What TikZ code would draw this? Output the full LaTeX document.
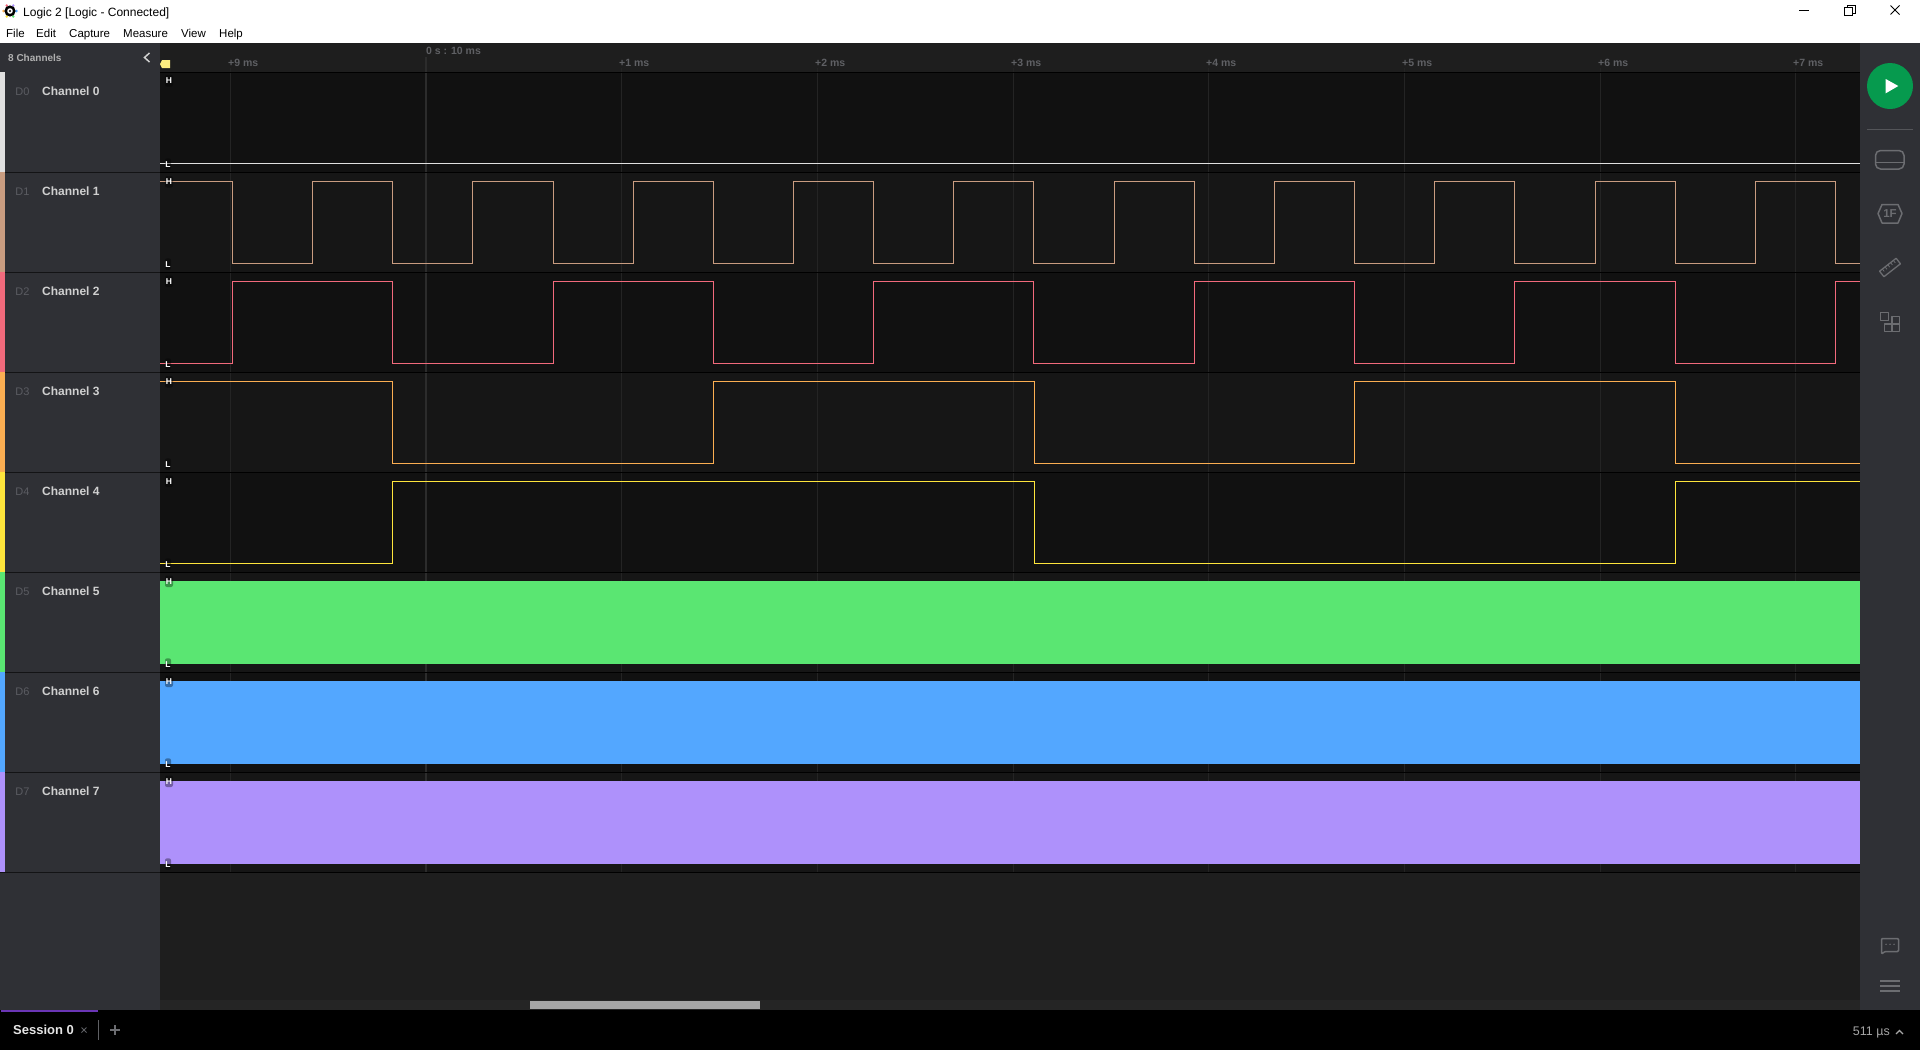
\documentclass[tikz,border=0pt]{standalone}
\usepackage{fontspec}
\setmainfont{Liberation Sans}
\definecolor{panelgray}{HTML}{2F3035}
\definecolor{plotgray}{HTML}{1E1E1E}
\definecolor{trackgray}{HTML}{252525}
\definecolor{rowdark}{HTML}{111111}
\definecolor{rowlight}{HTML}{161616}
\definecolor{gridgray}{HTML}{242424}
\definecolor{originline}{HTML}{2C2C2C}
\definecolor{icongray}{HTML}{6C6D71}
\definecolor{rulertext}{HTML}{5F6064}
\definecolor{chid}{HTML}{5B5C62}
\definecolor{chname}{HTML}{D0D0D0}
\definecolor{rungreen}{HTML}{069A4E}
\definecolor{sessionpurple}{HTML}{6A35B5}
\definecolor{chzero}{HTML}{E0E0E0}
\definecolor{chone}{HTML}{C99C80}
\definecolor{chtwo}{HTML}{F26A7C}
\definecolor{chthree}{HTML}{FBAE52}
\definecolor{chfour}{HTML}{FEE53C}
\definecolor{chfive}{HTML}{5AE672}
\definecolor{chsix}{HTML}{53A7FF}
\definecolor{chseven}{HTML}{AE91FB}
\tikzset{
  sigline/.style={line width=1.2pt, line join=miter, line cap=square},
  gridline/.style={gridgray, line width=1pt},
  rowline/.style={black, line width=1pt},
  icon/.style={icongray, line width=1.5pt, line join=round},
  label/.style={anchor=base west, inner sep=0pt},
  menulabel/.style={label, black, font=\fontsize{11.5}{14}\selectfont},
  rulerlabel/.style={label, rulertext, font=\bfseries\fontsize{10.5}{12}\selectfont},
  chanid/.style={label, color=chid, font=\fontsize{11}{14}\selectfont},
  channame/.style={label, color=chname, font=\bfseries\fontsize{12}{14}\selectfont},
  levelbg/.style={fill=black, fill opacity=.35, rounded corners=2pt},
  levellabel/.style={text=white, inner sep=0pt, font=\bfseries\fontsize{8.5}{9}\selectfont}
}
\begin{document}
\begin{tikzpicture}[x=1pt,y=-1pt]
    \useasboundingbox (0,0) rectangle (1920,1050);
% window background
    \fill[white] (0,0) rectangle (1920,43);
    \fill[plotgray] (160,43) rectangle (1860,1000);
    \fill[panelgray] (0,43) rectangle (160,1010);
    \fill[panelgray] (1860,43) rectangle (1920,1010);
    \fill[black] (0,1010) rectangle (1920,1050);
% title bar
    \foreach \a/\c in {0/chsix,60/chseven,120/chtwo,180/chthree,240/chfour,300/chfive}
      \fill[\c] (10,11)++(\a:6.4pt) circle (1.4pt);
    \fill[black] (10,11) circle (5.6pt);
    \fill[white] (10,11) circle (2.8pt);
    \fill[black] (10,11) circle (1.2pt);
    \node[label, black, font=\fontsize{12}{14}\selectfont] (title) at (23,16) {Logic 2 [Logic - Connected]};
    \draw[black, line width=.9pt] (1799,10.5) -- (1809,10.5);
    \draw[black, line width=.9pt] (1844.5,7.5) rectangle (1852.5,15.5);
    \draw[black, line width=.9pt] (1847,7.5) -- (1847,5.5) -- (1855,5.5) -- (1855,13) -- (1852.5,13);
    \draw[black, line width=.9pt] (1890.5,5.5) -- (1899.5,14.5) (1899.5,5.5) -- (1890.5,14.5);
% menu
    \foreach \x/\t in {6/File,36/Edit,69/Capture,123/Measure,181/View,219/Help}
      \node[menulabel] (menu\t) at (\x,37) {\t};
% channel rows
    \foreach \y/\c in {72/rowdark,172/rowlight,272/rowdark,372/rowlight,472/rowdark,572/rowlight,672/rowdark,772/rowlight}
      \fill[\c] (160,\y) rectangle (1860,\y+100);
% grid
    \foreach \x in {230.5,621.5,817.5,1013.5,1208.5,1404.5,1600.5,1795.5}
      \draw[gridline] (\x,68) -- (\x,872);
    \draw[originline, line width=1.5pt] (426,57) -- (426,872);
% ruler labels
    \foreach \x/\t in {228/+9,619/+1,815/+2,1011/+3,1206/+4,1402/+5,1598/+6,1793/+7}
      \node[rulerlabel] (tick\t) at (\x,66) {\t{} ms};
    \node[rulerlabel] (origin) at (426,54.3) {0 s : 10 ms};
    \fill[chfour!65!white] (162,60) -- (170,60) -- (170,68) -- (162,68) -- (160,64) -- cycle; % trigger
% left panel
    \node[label, color=chname!85!black, font=\bfseries\fontsize{10}{12}\selectfont] (chcount) at (8,61) {8 Channels};
    \draw[chname, line width=1.5pt] (149.5,53) -- (144.5,57.5) -- (149.5,62);
    \foreach \i/\c in {0/chzero,1/chone,2/chtwo,3/chthree,4/chfour,5/chfive,6/chsix,7/chseven} {
      \fill[\c] (0,72+100*\i) rectangle (5,172+100*\i);
      \node[chanid] (id\i) at (15.3,95+100*\i) {D\i};
      \node[channame] (name\i) at (42,95+100*\i) {Channel \i};
      \draw[black!60!panelgray, line width=1pt] (0,172.5+100*\i) -- (160,172.5+100*\i);
    }
% waveforms
    \draw[sigline, chzero] (160,163.5) -- (1860,163.5);
    \draw[sigline, chone] (160,181.5) -- (232.5,181.5);
    \foreach \i in {0,2,...,18} {
      \pgfmathsetmacro\xa{floor(232.5+80.15*\i)+.5}
      \pgfmathsetmacro\xb{floor(232.5+80.15*(\i+1))+.5}
      \pgfmathsetmacro\xc{floor(232.5+80.15*(\i+2))+.5}
      \draw[sigline, chone] (\xa,181.5) -- (\xa,263.5) -- (\xb,263.5) -- (\xb,181.5) -- (\xc,181.5);
    }
    \draw[sigline, chone] (1835.5,181.5) -- (1835.5,263.5) -- (1860,263.5);
    \draw[sigline, chtwo] (160,363.5) -- (232.5,363.5);
    \foreach \i in {0,4,...,16} {
      \pgfmathsetmacro\xa{floor(232.5+80.15*\i)+.5}
      \pgfmathsetmacro\xb{floor(232.5+80.15*(\i+2))+.5}
      \pgfmathsetmacro\xc{floor(232.5+80.15*(\i+4))+.5}
      \draw[sigline, chtwo] (\xa,363.5) -- (\xa,281.5) -- (\xb,281.5) -- (\xb,363.5) -- (\xc,363.5);
    }
    \draw[sigline, chtwo] (1835.5,363.5) -- (1835.5,281.5) -- (1860,281.5);
    \draw[sigline, chthree] (160,381.5) -- (392.5,381.5) -- (392.5,463.5) -- (713.5,463.5) -- (713.5,381.5)
      -- (1034.5,381.5) -- (1034.5,463.5) -- (1354.5,463.5) -- (1354.5,381.5) -- (1675.5,381.5) -- (1675.5,463.5) -- (1860,463.5);
    \draw[sigline, chfour] (160,563.5) -- (392.5,563.5) -- (392.5,481.5) -- (1034.5,481.5) -- (1034.5,563.5)
      -- (1675.5,563.5) -- (1675.5,481.5) -- (1860,481.5);
    \fill[chfive] (160,581) rectangle (1860,664);
    \fill[chsix] (160,681) rectangle (1860,764);
    \fill[chseven] (160,781) rectangle (1860,864);
% row separators
    \foreach \y in {72.5,172.5,...,872.5}
      \draw[rowline] (160,\y) -- (1860,\y);
% H and L marks
    \foreach \n/\yh/\yl in {0/81/164.3,1/182/264.3,2/281.5/364.3,3/382/464.3,4/481.5/564.3,5/581.5/664.3,6/681.5/764.3,7/781.5/864.3} {
      \fill[levelbg] (165,\yh-6) rectangle (173,\yh+5.5);
      \fill[levelbg] (165,\yl-6) rectangle (171,\yl+5.5);
      \node[levellabel] (high\n) at (169,\yh) {H};
      \node[levellabel] (low\n) at (168,\yl) {L};
    }
% right panel
    \fill[rungreen] (1890,86) circle (23pt);
    \fill[white] (1885.7,79) -- (1898.3,86) -- (1885.7,93.3) -- cycle;
    \draw[icongray!60!panelgray, line width=1pt] (1867,129.5) -- (1913,129.5);
    \draw[icon, rounded corners=5pt] (1875.5,169) rectangle (1904,150.5); % device
    \draw[icon] (1876,162.5) -- (1904,162.5);
    \draw[icon] (1878,213.5) -- (1882,204.5) -- (1898,204.5) -- (1902,213.5) -- (1898,223) -- (1882,223) -- cycle; % analyzer
    \node[text=icongray, inner sep=0pt, font=\bfseries\fontsize{11.5}{12}\selectfont] (analyzer) at (1890,214) {1F};
    \begin{scope}[shift={(1890,267.5)}, rotate=38]
      \draw[icon, line width=1.3pt] (-10.5,-3.5) rectangle (10.5,3.5); % ruler
      \foreach \t in {-7,-3.5,...,7}
        \draw[icon, line width=.8pt] (\t,-3.5) -- (\t,-.5);
    \end{scope}
    \draw[icon] (1880.5,312.5) rectangle (1888.5,320.5); % extensions
    \draw[icon] (1892,316.5) rectangle (1899.3,324);
    \draw[icon] (1884.5,324) rectangle (1892,331.3);
    \draw[icon] (1892,324) rectangle (1899.3,331.3);
    \draw[icon, rounded corners=1pt] (1881.5,938.5) -- (1898.5,938.5) -- (1898.5,951.5) -- (1885,951.5) -- (1881.5,954) -- cycle; % notes
    \foreach \x in {1886,1890,1894}
      \fill[icongray] (\x,944.3) circle (.8pt);
    \foreach \y in {980.7,985.7,990.7}
      \draw[icon, line width=2.2pt] (1880,\y) -- (1900,\y);
% scroll bar
    \fill[trackgray] (160,1000) rectangle (1860,1010);
    \fill[white!65!black] (530,1001) rectangle (760,1009);
% session bar
    \fill[sessionpurple] (1,1010) rectangle (98,1012);
    \node[label, white!90!black, font=\bfseries\fontsize{13}{14}\selectfont] (session) at (13,1034.3) {Session 0};
    \draw[rulertext, line width=.8pt] (81.5,1027.5) -- (86.5,1032.5) (86.5,1027.5) -- (81.5,1032.5);
    \draw[rulertext, line width=.8pt] (98.5,1020) -- (98.5,1040);
    \draw[icongray, line width=1.3pt] (110,1030) -- (120,1030) (115,1025) -- (115,1035);
    \node[label, color=white!65!black, font=\fontsize{12.5}{14}\selectfont] (span) at (1852.7,1035) {511 µs};
    \draw[white!65!black, line width=1.2pt] (1896,1034) -- (1899.5,1030.5) -- (1903,1034);
\end{tikzpicture}
\end{document}
